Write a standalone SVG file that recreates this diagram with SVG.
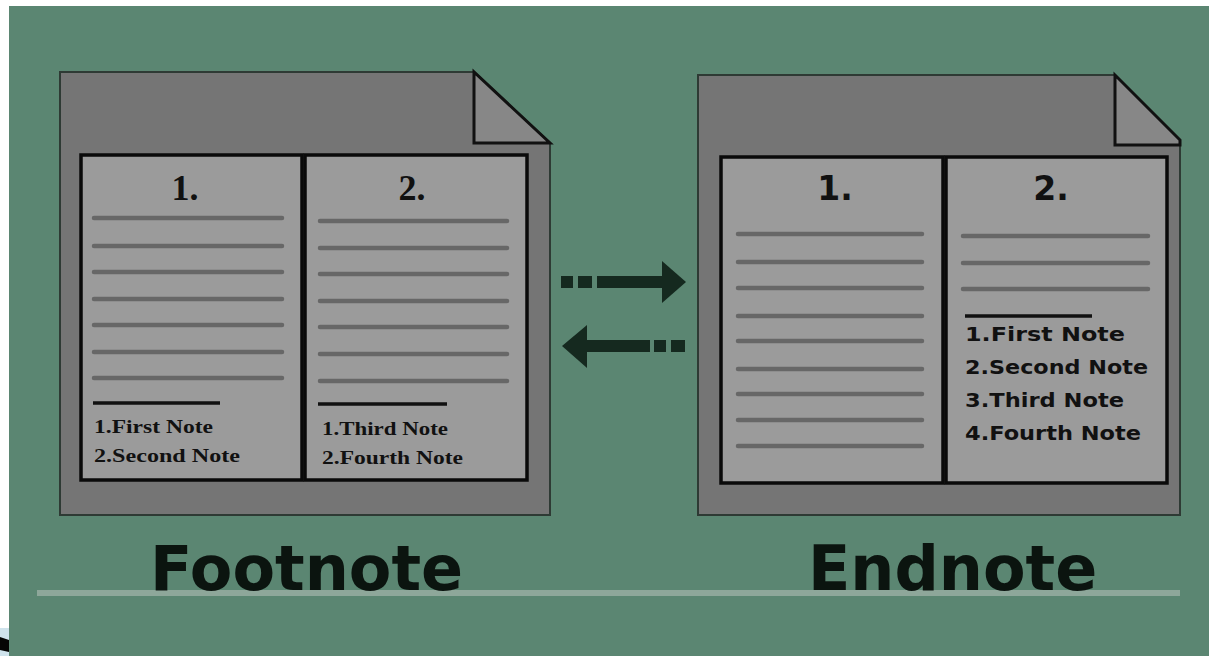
<svg xmlns="http://www.w3.org/2000/svg" width="1209" height="656" viewBox="0 0 1209 656">
<defs>
<style>
.outer{fill:#757575;stroke:#2e3a34;stroke-width:2}
.fold{fill:#878787;stroke:#111;stroke-width:3;stroke-linejoin:miter}
.page{fill:#9b9b9b;stroke:#0a0a0a;stroke-width:3.5}
.ln{stroke:#676767;stroke-width:4.5;stroke-linecap:round}
.sep{stroke:#111;stroke-width:3.5}
.serif{font-family:"Liberation Serif","Times New Roman",serif;font-weight:bold;fill:#111}
.sans{font-family:"DejaVu Sans","Liberation Sans",sans-serif;font-weight:bold;fill:#111}
.title{font-family:"DejaVu Sans","Liberation Sans",sans-serif;font-weight:bold;font-size:62px;fill:#0b140f}
.arrow{fill:#15291f}
</style>
</defs>
<rect x="0" y="0" width="1209" height="656" fill="#ffffff"/>
<polygon points="0,628 9,628 9,656 0,656" fill="#cfe3ec"/>
<polygon points="0,637 9,640 9,652 0,650" fill="#050505"/>
<rect x="9" y="6" width="1200" height="650" fill="#5b8672"/>

<g id="footnote">
<path class="outer" d="M60,72 L474,72 L550,143 L550,515 L60,515 Z"/>
<polygon class="fold" points="474,72 474,143 550,143"/>
<rect class="page" x="81" y="155" width="221" height="325"/>
<rect class="page" x="305" y="155" width="222" height="325"/>
<text class="serif" x="185" y="200" font-size="36" text-anchor="middle">1.</text>
<text class="serif" x="412" y="200" font-size="36" text-anchor="middle">2.</text>
<g class="ln">
<line x1="94" y1="218" x2="282" y2="218"/>
<line x1="94" y1="246" x2="282" y2="246"/>
<line x1="94" y1="272" x2="282" y2="272"/>
<line x1="94" y1="299" x2="282" y2="299"/>
<line x1="94" y1="325" x2="282" y2="325"/>
<line x1="94" y1="352" x2="282" y2="352"/>
<line x1="94" y1="378" x2="282" y2="378"/>
<line x1="320" y1="221" x2="507" y2="221"/>
<line x1="320" y1="248" x2="507" y2="248"/>
<line x1="320" y1="274" x2="507" y2="274"/>
<line x1="320" y1="301" x2="507" y2="301"/>
<line x1="320" y1="327" x2="507" y2="327"/>
<line x1="320" y1="354" x2="507" y2="354"/>
<line x1="320" y1="381" x2="507" y2="381"/>
</g>
<line class="sep" x1="93" y1="403" x2="220" y2="403"/>
<line class="sep" x1="318" y1="404" x2="447" y2="404"/>
<text class="serif" x="94" y="433" font-size="19" textLength="119" lengthAdjust="spacingAndGlyphs">1.First Note</text>
<text class="serif" x="94" y="462" font-size="19" textLength="146" lengthAdjust="spacingAndGlyphs">2.Second Note</text>
<text class="serif" x="322" y="435" font-size="19" textLength="126" lengthAdjust="spacingAndGlyphs">1.Third Note</text>
<text class="serif" x="322" y="464" font-size="19" textLength="141" lengthAdjust="spacingAndGlyphs">2.Fourth Note</text>
</g>

<g id="endnote">
<path class="outer" d="M698,75 L1115,75 L1180,140 L1180,515 L698,515 Z"/>
<polygon class="fold" points="1115,75 1115,145 1180,145 1180,140"/>
<rect class="page" x="721" y="157" width="222" height="326"/>
<rect class="page" x="946" y="157" width="221" height="326"/>
<text class="sans" x="835" y="200" font-size="33" text-anchor="middle">1.</text>
<text class="sans" x="1051" y="200" font-size="33" text-anchor="middle">2.</text>
<g class="ln">
<line x1="738" y1="234" x2="922" y2="234"/>
<line x1="738" y1="262" x2="922" y2="262"/>
<line x1="738" y1="288" x2="922" y2="288"/>
<line x1="738" y1="316" x2="922" y2="316"/>
<line x1="738" y1="341" x2="922" y2="341"/>
<line x1="738" y1="369" x2="922" y2="369"/>
<line x1="738" y1="394" x2="922" y2="394"/>
<line x1="738" y1="420" x2="922" y2="420"/>
<line x1="738" y1="446" x2="922" y2="446"/>
<line x1="963" y1="236" x2="1148" y2="236"/>
<line x1="963" y1="263" x2="1148" y2="263"/>
<line x1="963" y1="289" x2="1148" y2="289"/>
</g>
<line class="sep" x1="965" y1="316" x2="1092" y2="316" stroke-width="4.5"/>
<text class="sans" x="965" y="341" font-size="20" textLength="160" lengthAdjust="spacingAndGlyphs">1.First Note</text>
<text class="sans" x="965" y="374" font-size="20" textLength="183" lengthAdjust="spacingAndGlyphs">2.Second Note</text>
<text class="sans" x="965" y="407" font-size="20" textLength="159" lengthAdjust="spacingAndGlyphs">3.Third Note</text>
<text class="sans" x="965" y="440" font-size="20" textLength="176" lengthAdjust="spacingAndGlyphs">4.Fourth Note</text>
</g>

<g id="connectors">
<g class="arrow">
<rect x="561" y="276" width="12" height="12"/>
<rect x="578" y="276" width="14" height="12"/>
<rect x="597" y="276" width="66" height="12"/>
<polygon points="662,261 686,282 662,303"/>
<polygon points="562,346 587,325 587,368"/>
<rect x="586" y="340" width="64" height="12"/>
<rect x="654" y="340" width="12" height="12"/>
<rect x="671" y="340" width="14" height="12"/>
</g>
</g>

<g id="labels">
<rect x="37" y="590" width="1143" height="6" fill="#8ea79a"/>
<text class="title" x="150" y="590">Footnote</text>
<text class="title" x="808" y="590">Endnote</text>
</g>
</svg>
